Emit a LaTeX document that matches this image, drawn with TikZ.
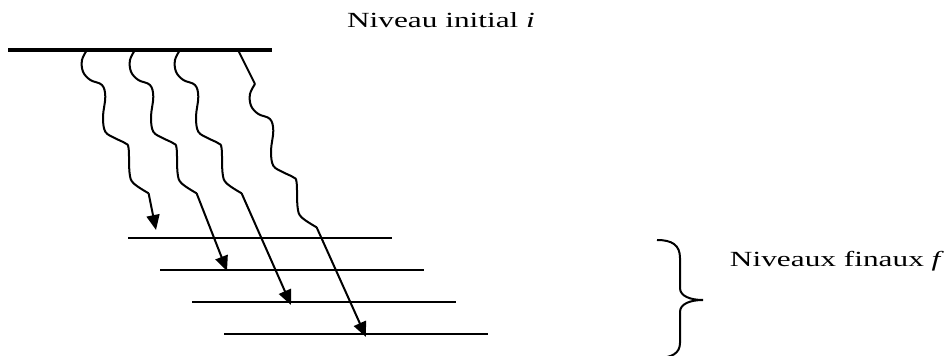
\documentclass[tikz,border=0pt]{standalone}
\usepackage{fontspec}
\setmainfont[FakeStretch=1.45]{Liberation Serif}
\usetikzlibrary{arrows.meta,positioning}

\begin{document}
\begin{tikzpicture}[
  x=0.5pt, y=-0.5pt,
  font=\fontsize{10.8pt}{13pt}\selectfont,
  initlev/.style={line width=1.6pt},
  lev/.style={line width=1pt},
  wv/.style={line width=1pt},
  arr/.style={-{Triangle[length=7.5pt,width=6.5pt]}, line width=1pt},
  wave/.pic={
    \draw[wv] plot[smooth, tension=0.6] coordinates {(0,0) (-5,10) (-4,21.7) (3.3,30) (15,35) (18.3,46.7) (16,66.7) (18.3,81.7) (28.3,88.3) (38.3,93.3) (41.6,98.3) (42.6,123.3) (46.6,133.3) (61.6,143.3)};
    \coordinate (-end) at (61.6,143.3);
  }
]
\useasboundingbox (0,0) rectangle (949,356);

% initial level
\coordinate (i0) at (8,50);
\coordinate (i1) at (272,50);
\draw[initlev] (i0) -- (i1);
\node[anchor=base] (ini) at (441,28) {Niveau initial \textit{i}};

% final levels
\foreach \k in {1,...,4}{
  \coordinate (f\k-w) at ({96+32*\k},{206+32*\k});
  \coordinate (f\k-e) at ({360+32*\k},{206+32*\k});
  \draw[lev] (f\k-w) -- (f\k-e);
}

% transitions
\pic (w1) at (87,50) {wave};
\pic (w2) at (135,50) {wave};
\pic (w3) at (180,50) {wave};
\coordinate (s4) at (238,50);
\coordinate (k4) at (255,84);
\draw[wv] (s4) -- (k4);
\pic (w4) at (k4) {wave};

\coordinate (t1) at (156,230);
\coordinate (t2) at (227,271);
\coordinate (t3) at (291,305);
\coordinate (t4) at (366,337);
\foreach \n in {1,...,4}
  \draw[arr] (w\n-end) -- (t\n);

% brace
\coordinate (bt) at (657,240);
\coordinate (bm) at (703,300);
\coordinate (bb) at (657,358);
\draw[lev] (bt) .. controls (672,240) and (680,245) .. (680,258) -- (680,288)
  .. controls (680,296) and (690,300) .. (bm)
  .. controls (690,300) and (680,304) .. (680,312) -- (680,343)
  .. controls (680,353) and (672,358) .. (bb);
\node[anchor=base] (fin) at (837,267) {Niveaux finaux \textit{f}};
\end{tikzpicture}
\end{document}
